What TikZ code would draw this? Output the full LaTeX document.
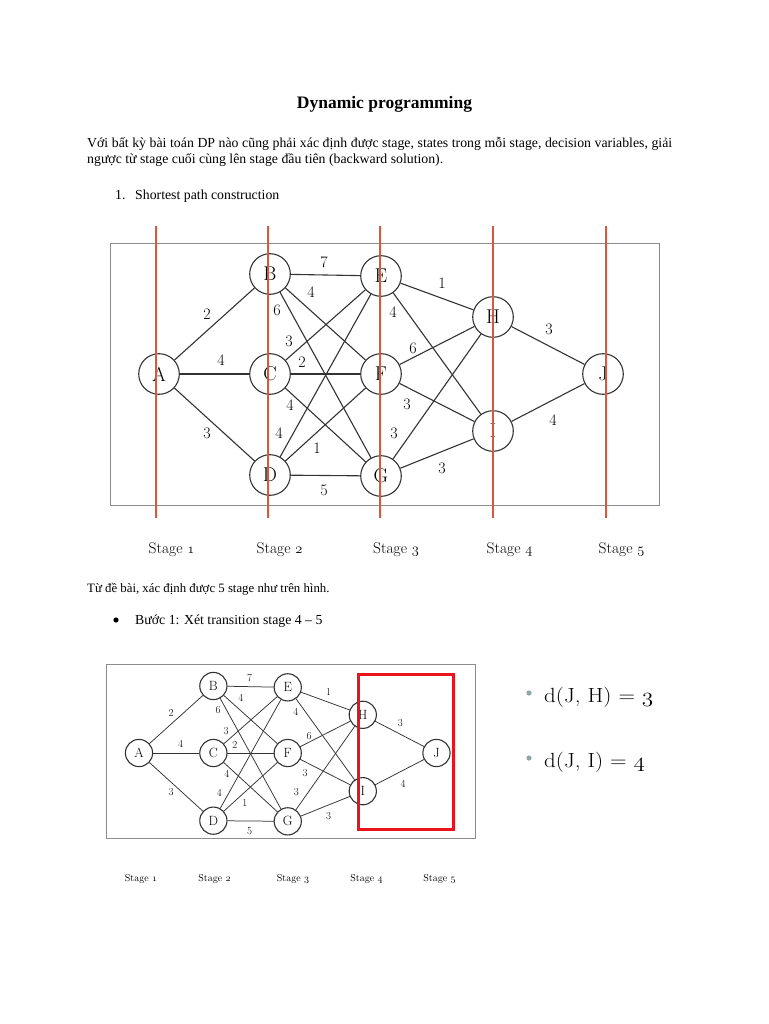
\documentclass[tikz,border=0pt]{standalone}
\usepackage{fontspec}
\usepackage{graphicx}
\newfontfamily\tnr{Liberation Serif}
\newcommand\osd[1]{{\usefont{OML}{cmm}{m}{it}#1}}
\definecolor{stg}{HTML}{D9573F}
\definecolor{boxgray}{HTML}{8C8C8C}
\definecolor{redbox}{HTML}{E8131B}
\definecolor{dotc}{HTML}{8FA8A6}
\definecolor{ink}{HTML}{333333}
\newcommand\dpgraph[1]{%
  \node[vtx] (A) at (0,0) {A};
  \node[vtx] (B) at (111,-100) {B};
  \node[vtx] (C) at (111,0) {C};
  \node[vtx] (D) at (111,101) {D};
  \node[vtx] (E) at (222,-98) {E};
  \node[vtx] (F) at (222,0) {F};
  \node[vtx] (G) at (222,102) {G};
  \node[vtx] (H) at (334,-57) {H};
  \node[vtx] (I) at (334,57) {I};
  \node[vtx] (J) at (444,0) {J};
  \foreach \u/\v in {A/B,A/C,A/D,B/E,B/F,B/G,C/E,C/F,C/G,D/E,D/F,D/G,E/H,E/I,F/H,F/I,G/H,G/I,H/J,I/J}
    \draw[draw=ink, line width=#1] (\u) -- (\v);
  \node[wt] (wAB) at (48,-60) {2};
  \node[wt] (wAC) at (62,-14) {4};
  \node[wt] (wAD) at (48,59) {3};
  \node[wt] (wBE) at (165,-112) {7};
  \node[wt] (wBF) at (152,-82) {4};
  \node[wt] (wBG) at (118,-64) {6};
  \node[wt] (wCE) at (130,-33) {3};
  \node[wt] (wCF) at (143,-12) {2};
  \node[wt] (wCG) at (131,31) {4};
  \node[wt] (wDE) at (120,59) {4};
  \node[wt] (wDF) at (158,74) {1};
  \node[wt] (wDG) at (165,116) {5};
  \node[wt] (wEH) at (283,-91) {1};
  \node[wt] (wEI) at (234,-62) {4};
  \node[wt] (wFH) at (254,-26) {6};
  \node[wt] (wFI) at (248,30) {3};
  \node[wt] (wGH) at (235,59) {3};
  \node[wt] (wGI) at (283,94) {3};
  \node[wt] (wHJ) at (390,-45) {3};
  \node[wt] (wIJ) at (394,46) {4};
}
\begin{document}
\begin{tikzpicture}[x=1pt,y=-1pt,
  vtx/.style={circle, draw=ink, fill=white, line width=1.1pt, minimum size=40.6pt, inner sep=0pt, font=\fontsize{20}{20}\selectfont},
  wt/.style={inner sep=0pt, font=\fontsize{16}{16}\selectfont},
  body/.style={anchor=base west, inner sep=0pt, font=\tnr\fontsize{13.8}{16}\selectfont},
  bodysm/.style={anchor=base west, inner sep=0pt, font=\tnr\fontsize{12.8}{15}\selectfont},
  stagelbl/.style={anchor=base, inner sep=0pt, font=\fontsize{15.5}{15.5}\selectfont},
  stagesm/.style={anchor=base, inner sep=0pt, font=\fontsize{10}{10}\selectfont},
  stageline/.style={draw=stg, line width=1.6pt},
  dval/.style={anchor=base west, inner sep=0pt, font=\fontsize{20.5}{20.5}\selectfont}]
\fill[white] (0,0) rectangle (768,1024);
\useasboundingbox (0,0) rectangle (768,1024);

% header text
\node[anchor=base, inner sep=0pt, font=\tnr\bfseries\fontsize{17.5}{20}\selectfont] (title) at (384.5,109) {Dynamic programming};
\node[body] (p1) at (87,148) {\makebox[585pt][s]{Với bất kỳ bài toán DP nào cũng phải xác định được stage, states trong mỗi stage, decision variables, giải}};
\node[body] (p2) at (87,164) {ngược từ stage cuối cùng lên stage đầu tiên (backward solution).};
\node[body] (n1) at (115,200) {1.};
\node[body] (n1t) at (135,200) {Shortest path construction};

% top graph
\draw[draw=boxgray, line width=0.9pt] (110,243) rectangle (659,505);
\begin{scope}[shift={(159,374)}, name prefix=t-]
  \dpgraph{1.1pt}
\end{scope}
\foreach \x [count=\k] in {156,268,380,493,606}
  \draw[stageline] (\x,226) coordinate (sl\k) -- (\x,518);
\node[stagelbl] (s1) at (171.5,553) {Stage \osd{1}};
\node[stagelbl] (s2) at (279.5,553) {Stage \osd{2}};
\node[stagelbl] (s3) at (396,553) {Stage \osd{3}};
\node[stagelbl] (s4) at (509.5,553) {Stage \osd{4}};
\node[stagelbl] (s5) at (621.5,553) {Stage \osd{5}};

\node[bodysm] (p3) at (87,592) {Từ đề bài, xác định được 5 stage như trên hình.};
\fill[black] (116,620) circle (2.6) coordinate (blt);
\node[body] (p4) at (135,624) {Bước 1: Xét transition stage 4 – 5};

% lower graph
\draw[draw=boxgray, line width=0.9pt] (106,664) rectangle (475,838);
\begin{scope}[shift={(139,753)}, scale=0.67, transform shape, name prefix=b-]
  \dpgraph{0.75pt}
\end{scope}
\draw[draw=redbox, line width=3pt] (358,674) rectangle (453,829);
\node[stagesm] (t1) at (141,881) {Stage \osd{1}};
\node[stagesm] (t2) at (214.5,881) {Stage \osd{2}};
\node[stagesm] (t3) at (293,881) {Stage \osd{3}};
\node[stagesm] (t4) at (366.5,881) {Stage \osd{4}};
\node[stagesm] (t5) at (439.5,881) {Stage \osd{5}};

% right bullets
\fill[dotc] (529,693) circle (2.6);
\node[dval] (d1) at (544,702) {\scalebox{1.12}[1]{d(J, H) = \osd{3}}};
\fill[dotc] (529,758) circle (2.6);
\node[dval] (d2) at (544,767) {\scalebox{1.12}[1]{d(J, I) = \osd{4}}};
\end{tikzpicture}
\end{document}
